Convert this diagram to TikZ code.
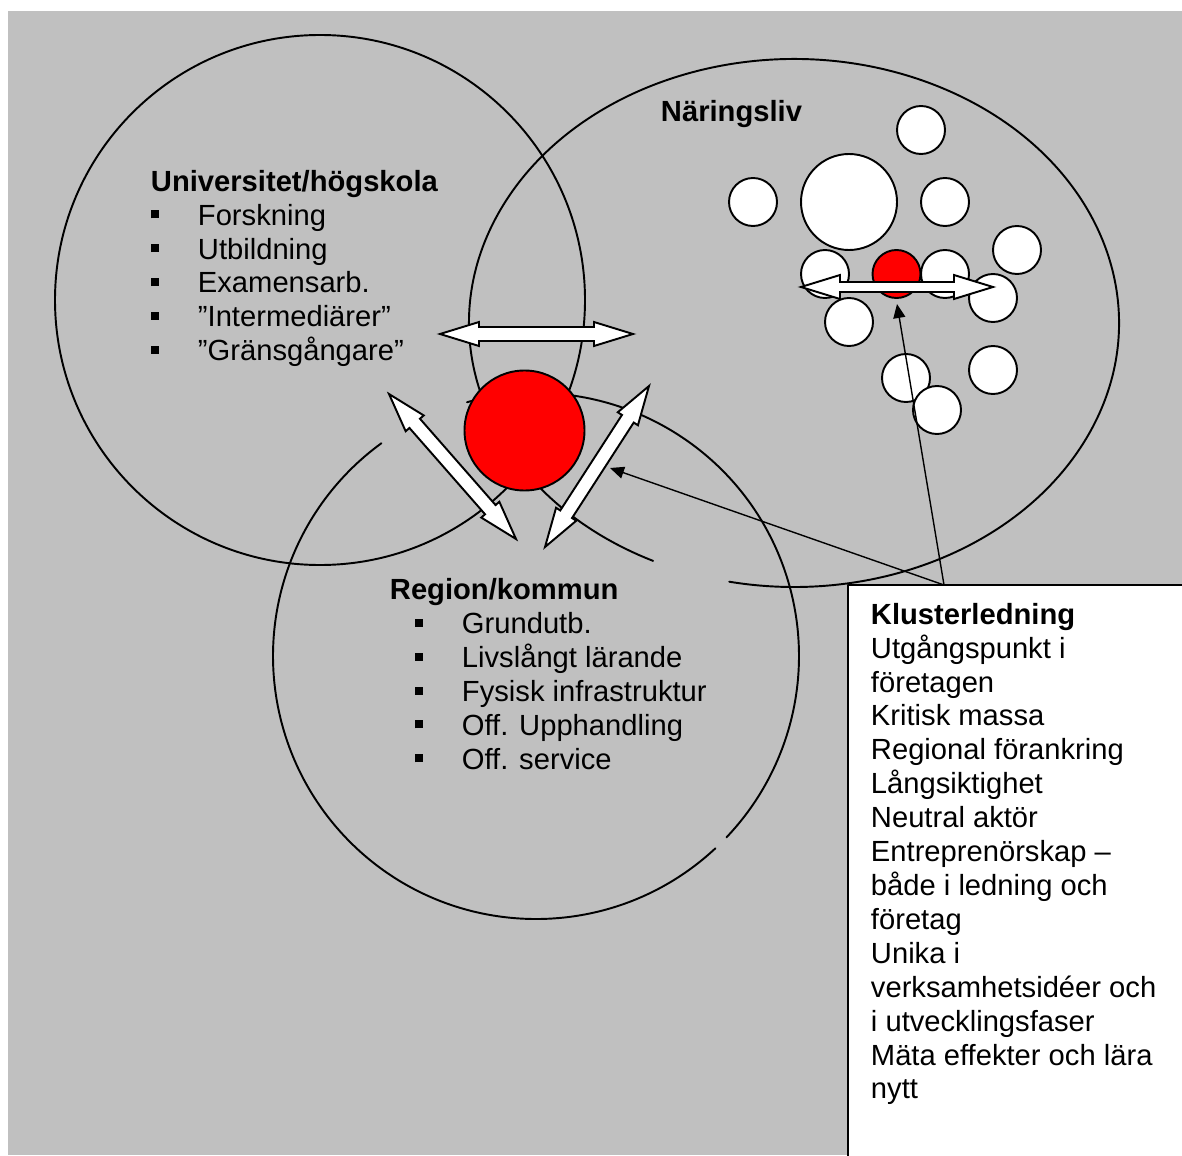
\documentclass[tikz,border=0pt]{standalone}
\usepackage{fontspec}
\setmainfont{Liberation Sans}
\usetikzlibrary{calc,arrows.meta}
\definecolor{bggray}{RGB}{192,192,192}
\newcommand{\itm}{\makebox[0.94cm][l]{\rule[3.9pt]{4.6pt}{4.6pt}}}
% block arrow with two heads: #1,#2 tips, #3 half shaft, #4 half head, #5 head length
\newcommand{\blockarrow}[5]{%
  \coordinate (#1-hd) at ($(#1)!#5!(#2)$);
  \coordinate (#2-hd) at ($(#2)!#5!(#1)$);
  \draw[fill=white,line join=miter] (#1) -- ($(#1-hd)!#4!90:(#2)$) -- ($(#1-hd)!#3!90:(#2)$)
    -- ($(#2-hd)!#3!-90:(#1)$) -- ($(#2-hd)!#4!-90:(#1)$) -- (#2)
    -- ($(#2-hd)!#4!90:(#1)$) -- ($(#2-hd)!#3!90:(#1)$)
    -- ($(#1-hd)!#3!-90:(#2)$) -- ($(#1-hd)!#4!-90:(#2)$) -- cycle;}

\begin{document}
\begin{tikzpicture}[x=0.02cm,y=-0.02cm,line join=round,line cap=round,
	>={Triangle[length=0.28cm,width=0.24cm]},
	font=\fontsize{16.6}{19.3}\selectfont,line width=1.1pt,
	txt/.style={inner sep=0pt,align=left,anchor=north west}]
	\useasboundingbox (0,0) rectangle (1182,1155);
	\clip (0,0) rectangle (1182,1155);
	\fill[bggray] (8,11) rectangle (1182,1155);
	
	% the three rings
	\coordinate (uc) at (320,300);
	\coordinate (rc) at (536,656);
	\coordinate (nc) at (794,323);
	\draw (uc) circle (265);
	\draw ([shift={(47:263)}]rc) arc[start angle=47,end angle=234,radius=263];
	\draw ([shift={(254.8:263)}]rc) arc[start angle=254.8,end angle=403.6,radius=263];
	\draw ([shift={(115.7:325 and 264)}]nc) arc[start angle=115.7,end angle=461.5,x radius=325,y radius=264];
	
	% centre
	\draw[fill=red] (524.5,430.5) circle (60);
	\coordinate (hA) at (440,334);
	\coordinate (hB) at (633,334);
	\coordinate (lA) at (389,394);
	\coordinate (lB) at (516,539);
	\coordinate (rA) at (649,386);
	\coordinate (rB) at (545,547);
	\blockarrow{hA}{hB}{0.14cm}{0.24cm}{0.78cm}
	\blockarrow{lA}{lB}{0.14cm}{0.24cm}{0.78cm}
	\blockarrow{rA}{rB}{0.14cm}{0.24cm}{0.78cm}
	
	\node[inner sep=0pt,anchor=base west] (naer) at (660,122) {\textbf{Näringsliv}};
	\node[txt] (uni) at (150,166.5) {\strut\textbf{Universitet/högskola}\\
		\itm Forskning\\ \itm Utbildning\\ \itm Examensarb.\\
		\itm ”Intermediärer”\\ \itm ”Gränsgångare”};
	\node[txt] (reg) at (389,575) {\strut\textbf{Region/kommun}\\
		\hspace*{0.5cm}\itm Grundutb.\\ \hspace*{0.5cm}\itm Livslångt lärande\\
		\hspace*{0.5cm}\itm Fysisk infrastruktur\\ \hspace*{0.5cm}\itm Off. Upphandling\\
		\hspace*{0.5cm}\itm Off. service};
	
	% firms
	\draw[fill=white] (849,202) circle (48);
	\foreach \x/\y in {921/130,753/202,945/202,1017/250,825/274,945/274,993/298,849/322,906/378,993/370,937/410}
		\draw[fill=white] (\x,\y) circle (24);
	\draw[fill=red] (896.5,274) circle (24);
	\coordinate (cA) at (801,287);
	\coordinate (cB) at (993,287);
	\blockarrow{cA}{cB}{0.1cm}{0.24cm}{0.78cm}
	
	% cluster management
	\draw[fill=white] (848,585) rectangle (1200,1170);
	\node[txt] (klus) at (870,599.5) {\strut\textbf{Klusterledning}\\
		Utgångspunkt i\\ företagen\\ Kritisk massa\\ Regional förankring\\
		Långsiktighet\\ Neutral aktör\\ Entreprenörskap –\\ både i ledning och\\
		företag\\ Unika i\\ verksamhetsidéer och\\ i utvecklingsfaser\\
		Mäta effekter och lära\\ nytt};
	\coordinate (kltop) at (944,585);
	\coordinate (tipC) at (610,468);
	\coordinate (tipF) at (897,304);
	\draw[->,line width=0.8pt] (kltop) -- (tipC);
	\draw[->,line width=0.8pt] (kltop) -- (tipF);
\end{tikzpicture}
\end{document}
